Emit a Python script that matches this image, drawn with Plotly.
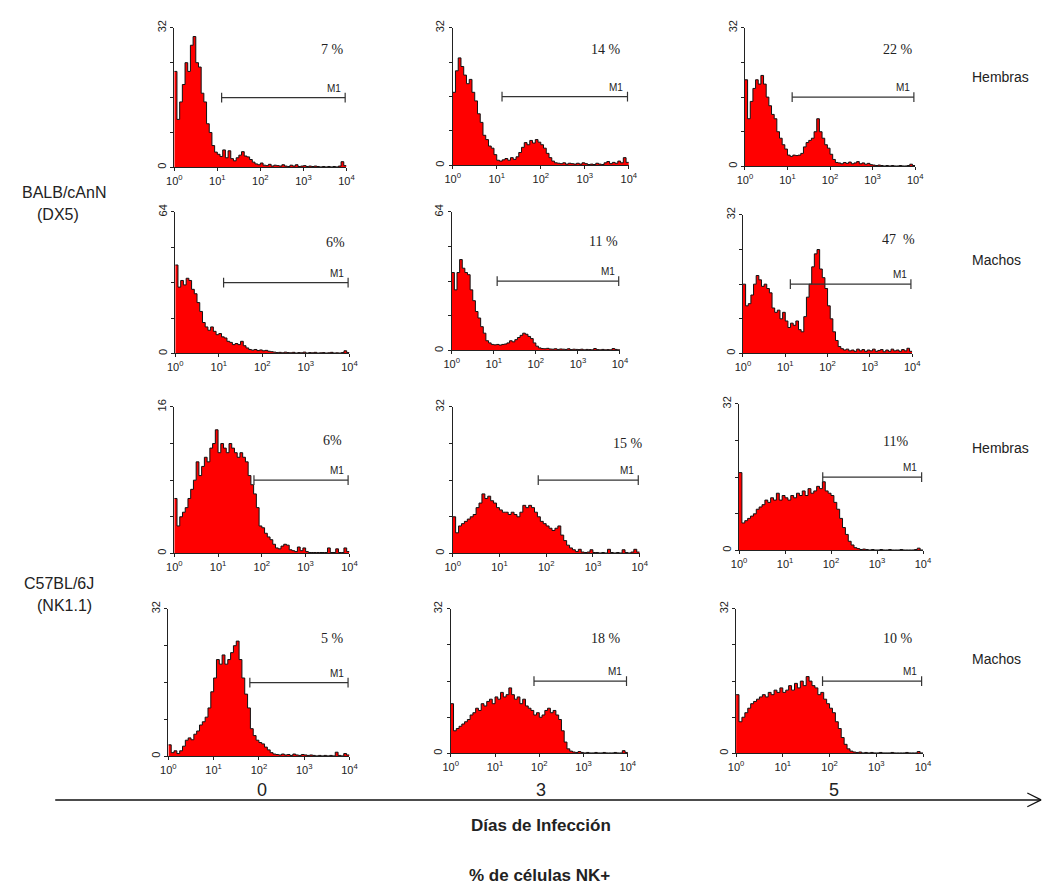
import numpy as np
import plotly.graph_objects as go

W, H = 1055, 888

# Fluorescence histograms: counts per 1/16-decade channel bin, from 10^0 to 10^4
balb_h_d0 = [22, 11, 15, 19, 24, 22, 28, 30, 24, 23, 17, 15, 10, 8, 5, 3.5,
             3, 2.5, 4, 2.2, 3.8, 2, 1.5, 2.2, 2.8, 3.6, 2.6, 2.4, 1.8, 1.2, 0.8, 0.6,
             1.0, 0.5, 0.4, 0.7, 0.3, 0.5, 0.4, 0.3, 0.6, 0.3, 0.2, 0.5, 0.3, 0.6, 0.2, 0.3,
             0.4, 0.2, 0.3, 0.2, 0.3, 0.2, 0.1, 0.2, 0.1, 0.2, 0.1, 0.2, 0.1, 0.3, 1.3, 0.4]
balb_h_d3 = [17, 22, 25, 23, 21, 19, 20, 17, 15, 12, 10, 7, 6, 4.5, 4, 2.5,
             1.2, 1.0, 1.3, 1.6, 1.2, 1.8, 1.4, 2, 3, 4.2, 5.3, 4.8, 5.8, 5.2, 6, 5.4,
             4.8, 4, 2.8, 1.8, 1, 0.6, 0.5, 0.4, 0.6, 0.3, 0.5, 0.4, 0.3, 0.5, 0.3, 0.6,
             0.4, 0.2, 0.3, 0.2, 0.5, 0.3, 0.2, 0.6, 0.9, 0.4, 0.7, 0.5, 1.0, 0.6, 1.8, 0.7]
balb_h_d5 = [20, 11, 15, 18, 20, 19, 21, 19, 16, 14, 12, 11, 8, 6.5, 5, 4,
             2.6, 2.3, 2.6, 2.5, 2.6, 3, 4.5, 5.5, 6, 6.5, 8, 11, 8, 6.5, 5, 4.2,
             2.8, 1.6, 0.9, 0.8, 0.6, 0.9, 0.7, 1.0, 0.6, 0.8, 1.1, 0.6, 0.8, 0.5, 0.7, 0.4,
             0.3, 0.2, 0.3, 0.2, 0.1, 0.2, 0.1, 0.2, 0.1, 0.1, 0.2, 0.1, 0.1, 0.2, 0.5, 0.2]
balb_m_d0 = [40, 30, 33, 31, 34, 33, 29, 27, 23, 19, 14, 12, 10.5, 12, 10, 8.5,
             9, 7.5, 7, 5.5, 5, 4, 4.5, 4, 5.5, 3.5, 2.5, 1.8, 1.5, 1.8, 1.3, 1.6,
             1.2, 1.4, 1.0, 0.8, 0.6, 0.4, 0.5, 0.3, 0.6, 0.4, 0.3, 0.5, 0.2, 0.4, 0.3, 0.6,
             0.2, 0.4, 0.3, 0.5, 0.2, 0.3, 0.4, 0.2, 0.3, 0.5, 0.2, 0.3, 0.2, 0.4, 1.2, 0.4]
balb_m_d3 = [36, 28, 36, 42, 38, 36, 35, 28, 23, 18, 15, 11, 8, 4.5, 3.5, 2.8,
             2.6, 2.8, 2.5, 2.8, 3, 3.5, 4.5, 4, 5, 6, 7, 8, 7.5, 6.5, 5.5, 3.5,
             2, 1.2, 0.9, 0.8, 1.0, 0.7, 0.6, 0.8, 0.5, 0.7, 0.6, 0.5, 0.8, 0.4, 0.6, 0.5,
             0.4, 0.6, 0.3, 0.5, 0.4, 0.3, 0.9, 0.4, 0.3, 0.5, 0.3, 0.4, 0.3, 0.9, 0.5, 0.3]
balb_m_d5 = [16, 11, 11.5, 13.5, 16, 18, 17, 15.5, 16, 15, 14, 10.5, 9.5, 10, 8, 9.5,
             7.5, 6, 7, 6.5, 7.5, 5.5, 5, 8.5, 13, 16, 20, 23, 24, 19.5, 17.5, 15,
             11, 8, 5, 3, 1.6, 1.1, 0.8, 1.0, 0.6, 0.8, 0.5, 1.0, 0.6, 0.9, 0.5, 0.8,
             0.6, 1.0, 0.5, 0.7, 0.9, 0.4, 0.8, 0.5, 1.0, 0.6, 0.8, 0.5, 0.9, 0.6, 1.2, 0.5]
c57_h_d0 = [6, 3, 4, 4.5, 5, 6, 7, 8, 10, 8.5, 9.5, 10.5, 10, 11.5, 12, 13.5,
            11, 12, 11.5, 11, 12, 11.5, 11, 10.5, 11, 10.5, 10, 8.5, 7.5, 6.5, 5, 3,
            2.8, 2.2, 1.8, 1.5, 1.0, 0.6, 0.5, 0.8, 1.0, 0.9, 0.4, 0.3, 0.2, 0.7, 0.3, 0.6,
            0.2, 0.1, 0.1, 0.1, 0.1, 0.1, 0.1, 0.1, 0.6, 0.1, 0.1, 0.5, 0.1, 0.1, 0.6, 0.2]
c57_h_d3 = [8, 4.5, 6, 6.5, 7, 7.5, 8, 8.5, 10, 11, 13, 12, 12.5, 11.5, 11, 10,
            9.5, 9, 9, 8.5, 9, 8.5, 8, 9, 10.5, 10, 10.5, 10, 9, 8, 7, 6.5,
            6, 5.5, 5, 5.5, 6, 4, 2.8, 1.8, 1.2, 0.8, 0.4, 0.9, 0.3, 0.2, 0.3, 0.8,
            0.2, 0.2, 0.1, 0.2, 0.1, 0.9, 0.2, 0.1, 0.2, 0.1, 0.8, 0.2, 0.1, 0.3, 0.9, 0.3]
c57_h_d5 = [17, 6, 6.5, 7, 7.5, 8, 9, 9.5, 10, 11, 10.5, 11.5, 11, 12.5, 11, 12,
            11.5, 11, 12, 11.5, 12.5, 12, 13, 12, 13.5, 12.5, 13, 14, 13.5, 15, 13, 12.5,
            12, 10.5, 9, 7, 5, 3.5, 2, 1.2, 0.6, 0.4, 0.2, 0.3, 0.2, 0.1, 0.2, 0.1,
            0.1, 0.2, 0.1, 0.1, 0.2, 0.1, 0.1, 0.1, 0.2, 0.1, 0.1, 0.1, 0.1, 0.2, 0.5, 0.1]
c57_m_d0 = [2.5, 0.8, 1.2, 0.6, 1.2, 2.2, 3.5, 4, 3.6, 4.8, 5.5, 6.8, 7.5, 8.5, 10.5, 14,
            17, 21, 20, 22, 20, 21, 22.5, 24, 25, 21, 17, 13.5, 10.5, 6, 4.5, 3.5,
            3, 2.7, 2, 1.4, 0.8, 0.5, 0.4, 0.3, 0.5, 0.3, 0.4, 0.2, 0.5, 0.3, 0.2, 0.4,
            0.3, 0.2, 0.3, 0.2, 0.1, 0.2, 0.1, 0.2, 0.1, 0.2, 0.1, 0.9, 0.2, 0.1, 0.6, 0.3]
c57_m_d3 = [11, 5, 5.5, 6, 6.5, 7, 7.5, 8.5, 9, 10, 9.5, 11, 10.5, 11.5, 12, 11,
            12.5, 12, 13.5, 12.5, 13, 14.5, 13, 12, 12.5, 11, 12, 10.5, 10, 9.5, 8.5, 9,
            8, 8.5, 9.5, 10, 9, 9.5, 8.5, 7.5, 5, 2.5, 1, 0.5, 0.3, 0.2, 0.4, 0.2,
            0.1, 0.2, 0.1, 0.1, 0.2, 0.1, 0.1, 0.2, 0.1, 0.1, 0.1, 0.2, 0.1, 0.1, 0.6, 0.2]
c57_m_d5 = [13, 7, 8, 9, 10, 11, 11.5, 12, 12.5, 13, 12.5, 13.5, 13, 14, 13.5, 14.5,
            13.5, 14, 15, 14, 15.5, 14.5, 16, 15, 17, 16, 15, 14.5, 13, 13.5, 12, 11,
            10, 9, 7, 5.5, 3.5, 2, 1, 0.5, 0.3, 0.2, 0.3, 0.1, 0.2, 0.1, 0.2, 0.1,
            0.1, 0.2, 0.1, 0.1, 0.1, 0.2, 0.1, 0.1, 0.1, 0.1, 0.2, 0.1, 0.1, 0.1, 0.4, 0.1]

y_max = [32, 32, 32, 64, 64, 32, 16, 32, 32, 32, 32, 32]
percent_labels = ["7 %", "14 %", "22 %", "6%", "11 %", "47  %",
                  "6%", "15 %", "11%", "5 %", "18 %", "10 %"]
# M1 gate start (log10 of channel); every gate ends near 10^4
m1_start = [1.1, 1.12, 1.11, 1.11, 1.08, 1.12, 1.82, 1.83, 1.82, 1.8, 1.88, 1.85]
m1_end = 3.97
x_tick_vals = [1, 10, 100, 1000, 10000]
x_tick_text = ["10<sup>0</sup>", "10<sup>1</sup>", "10<sup>2</sup>",
               "10<sup>3</sup>", "10<sup>4</sup>"]
day_labels = ["0", "3", "5"]
sex_labels = ["Hembras", "Machos", "Hembras", "Machos"]

series = [balb_h_d0, balb_h_d3, balb_h_d5,
          balb_m_d0, balb_m_d3, balb_m_d5,
          c57_h_d0, c57_h_d3, c57_h_d5,
          c57_m_d0, c57_m_d3, c57_m_d5]

# panel boxes in pixels: left, right, top, bottom
boxes = [(169, 344, 20, 161), (452, 631, 20, 159), (749, 922, 20, 160),
         (170, 347, 206, 349), (451, 622, 206, 346), (747, 919, 209, 349),
         (169, 347, 403, 551), (452, 642, 403, 551), (743, 930, 400, 548),
         (163, 347, 607, 756), (450, 630, 607, 753), (740, 930, 607, 753)]
pct_pos = [(330, 42), (608, 42), (905, 42),
           (333, 237), (605, 236), (905, 234),
           (330, 437), (630, 440), (902, 438),
           (330, 637), (608, 637), (905, 637)]


def fx(px):
    return px / W


def fy(py):
    return 1 - py / H


fig = go.Figure()
layout_axes = {}
annotations = []
n_bins = 64
edges = 10 ** (np.arange(n_bins + 1) / 16.0)

for k, counts in enumerate(series):
    n = k + 1
    xa = "x" if n == 1 else f"x{n}"
    ya = "y" if n == 1 else f"y{n}"
    xkey = "xaxis" if n == 1 else f"xaxis{n}"
    ykey = "yaxis" if n == 1 else f"yaxis{n}"
    l, r, t, b = boxes[k]
    ym = y_max[k]

    yvals = list(counts) + [counts[-1]]
    fig.add_trace(go.Scatter(
        x=edges, y=yvals, xaxis=xa, yaxis=ya, mode="lines",
        line=dict(shape="hv", color="#111111", width=1),
        fill="tozeroy", fillcolor="#FF0000", hoverinfo="skip", showlegend=False))

    # M1 marker bar
    gx = [10 ** m1_start[k], 10 ** m1_end]
    gy = [ym / 2, ym / 2]
    fig.add_trace(go.Scatter(
        x=gx, y=gy, xaxis=xa, yaxis=ya, mode="lines+markers",
        line=dict(color="#333333", width=1.2),
        marker=dict(symbol="line-ns", size=7, line=dict(color="#333333", width=1.2)),
        hoverinfo="skip", showlegend=False))
    annotations.append(dict(
        x=np.log10(gx[1]) - 0.05, y=ym / 2, xref=xa, yref=ya, text="M1",
        showarrow=False, xanchor="right", yanchor="bottom", yshift=2,
        font=dict(family="Arial, Liberation Sans", size=10, color="#222")))

    px_, py_ = pct_pos[k]
    annotations.append(dict(
        x=fx(px_), y=fy(py_), xref="paper", yref="paper", text=percent_labels[k],
        showarrow=False, xanchor="center", yanchor="middle",
        font=dict(family="Liberation Serif, Times New Roman", size=14, color="#222")))

    layout_axes[xkey] = dict(
        type="log", range=[0, 4], domain=[fx(l), fx(r)], anchor=ya,
        tickvals=x_tick_vals, ticktext=x_tick_text, ticks="outside", ticklen=3,
        tickcolor="#222", showline=True, linecolor="#222", linewidth=1,
        showgrid=False, zeroline=False,
        tickfont=dict(family="Arial, Liberation Sans", size=11, color="#222"))
    layout_axes[ykey] = dict(
        range=[0, ym], domain=[fy(b), fy(t)], anchor=xa,
        tickvals=[0, ym / 4, ym / 2, 3 * ym / 4, ym],
        ticktext=["0", "", "", "", str(ym)], ticks="outside", ticklen=3,
        tickcolor="#222", tickangle=-90, showline=True, linecolor="#222",
        linewidth=1, showgrid=False, zeroline=False,
        tickfont=dict(family="Arial, Liberation Sans", size=11, color="#222"))

# row labels on the right
for text, py_ in zip(sex_labels, [70, 255, 445, 658]):
    annotations.append(dict(
        x=fx(978), y=fy(py_), xref="paper", yref="paper", text=text,
        showarrow=False, xanchor="left", yanchor="middle",
        font=dict(family="Arial, Liberation Sans", size=14, color="#222")))

# strain labels on the left
for text, px_, py_ in [("BALB/cAnN", 12, 186), ("(DX5)", 27, 209),
                       ("C57BL/6J", 14, 581), ("(NK1.1)", 27, 604)]:
    annotations.append(dict(
        x=fx(px_), y=fy(py_), xref="paper", yref="paper", text=text,
        showarrow=False, xanchor="left", yanchor="middle",
        font=dict(family="Arial, Liberation Sans", size=16, color="#222")))

# day labels under each column
for text, px_ in zip(day_labels, [258, 542, 840]):
    annotations.append(dict(
        x=fx(px_), y=fy(790), xref="paper", yref="paper", text=text,
        showarrow=False, xanchor="center", yanchor="middle",
        font=dict(family="Arial, Liberation Sans", size=18, color="#222")))

annotations.append(dict(
    x=fx(542), y=fy(826), xref="paper", yref="paper", text="<b>Días de Infección</b>",
    showarrow=False, xanchor="center", yanchor="middle",
    font=dict(family="Arial, Liberation Sans", size=17, color="#222")))
annotations.append(dict(
    x=fx(540), y=fy(876), xref="paper", yref="paper", text="<b>% de células NK+</b>",
    showarrow=False, xanchor="center", yanchor="middle",
    font=dict(family="Arial, Liberation Sans", size=17, color="#222")))

# time arrow
shapes = [
    dict(type="line", xref="paper", yref="paper", x0=fx(48), x1=fx(1050),
         y0=fy(800), y1=fy(800), line=dict(color="#111", width=1.5)),
    dict(type="line", xref="paper", yref="paper", x0=fx(1036), x1=fx(1050),
         y0=fy(793), y1=fy(800), line=dict(color="#111", width=1.2)),
    dict(type="line", xref="paper", yref="paper", x0=fx(1036), x1=fx(1050),
         y0=fy(807), y1=fy(800), line=dict(color="#111", width=1.2)),
]

fig.update_layout(
    width=W, height=H, margin=dict(l=0, r=0, t=0, b=0),
    paper_bgcolor="white", plot_bgcolor="white",
    annotations=annotations, shapes=shapes, showlegend=False,
    **layout_axes)

fig.write_html("out.html")
